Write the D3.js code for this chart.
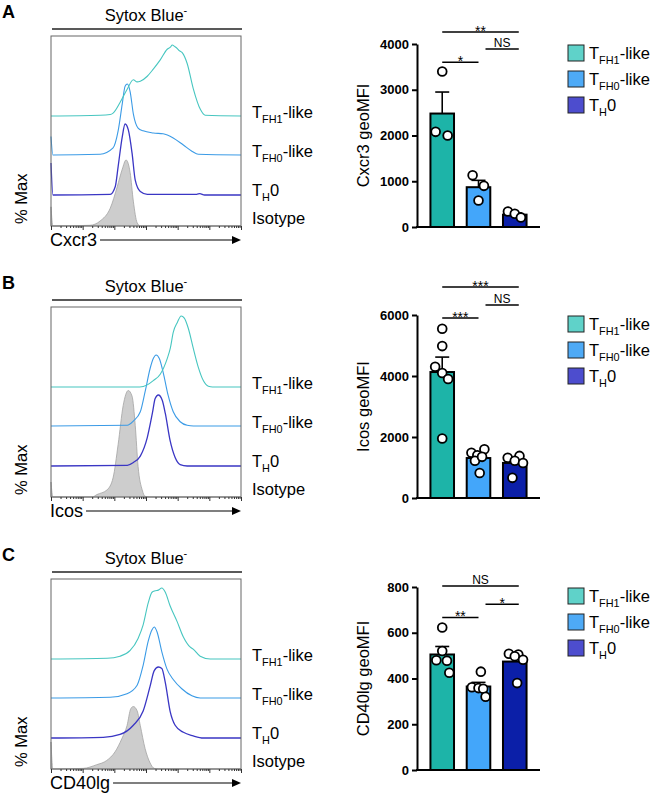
<!DOCTYPE html>
<html>
<head>
<meta charset="utf-8">
<script src="https://cdn.jsdelivr.net/npm/d3@7"></script>
<style>
  body { margin: 0; background: #fff; }
  svg { font-family: "Liberation Sans", Arial, Helvetica, sans-serif; }
</style>
</head>
<body>
<svg id="fig" width="657" height="795"></svg>
<script>
// ---- data ----
const groups = ["TFH1-like", "TFH0-like", "TH0"]
const groupParts = [["T", "FH1", "-like"], ["T", "FH0", "-like"], ["T", "H", "0"]]
const panelLetters = ["A", "B", "C"]
const markers = ["Cxcr3", "Icos", "CD40lg"]
const yMax = [4000, 6000, 800]
const yStep = [1000, 2000, 200]

// bar means, SEM and single points (geoMFI)
const means = [[2480, 870, 270], [4130, 1310, 1150], [505, 365, 474]]
const sems = [[470, 150, 40], [490, 160, 140], [35, 18, 18]]
const cxcr3Pts = [[3400, 2080, 2000], [1130, 900, 580], [340, 290, 210]]
const icosPts = [[5550, 4980, 4300, 4100, 3900, 1950], [1480, 1600, 1400, 1220, 1350, 820], [1320, 1380, 1220, 1150, 660]]
const cd40Pts = [[623, 520, 480, 478, 425], [430, 362, 358, 355, 320], [508, 505, 497, 482, 380]]
// horizontal spread of the points, as a fraction of bar width
const cxcr3Jit = [[0, -0.28, 0.23], [-0.25, 0.23, 0], [-0.29, 0, 0.26]]
const icosJit = [[0, 0, -0.3, 0, 0.25, 0], [-0.3, 0.25, -0.05, -0.15, 0.15, 0.05], [-0.3, 0.2, 0, 0.35, -0.1]]
const cd40Jit = [[0, 0, -0.25, 0.2, 0.3], [0.1, -0.28, 0, 0.2, 0.3], [-0.25, 0.15, 0, 0.35, 0.1]]

// significance brackets: [from, to, y value, label]
const cxcr3Sig = [[0, 2, 4260, "**"], [1, 2, 3890, "NS"], [0, 1, 3600, "*"]]
const icosSig = [[0, 2, 6920, "***"], [1, 2, 6330, "NS"], [0, 1, 5900, "***"]]
const cd40Sig = [[0, 2, 804, "NS"], [1, 2, 725, "*"], [0, 1, 667, "**"]]

// histograms: [log10 intensity, % of lane height]
const cxcr3Tfh1 = [[0,0],[1.55,1],[1.87,2],[1.96,4],[2.18,19],[2.41,38],[2.6,51],[2.72,48],[2.82,49],[3.04,56],[3.23,66],[3.45,79],[3.67,94],[3.77,97],[3.83,100],[3.9,98],[3.99,95],[4.05,92],[4.15,89],[4.3,74],[4.49,39],[4.72,9],[4.87,1],[6,0]]
const cxcr3Tfh0 = [[0,26],[0.06,0],[1.55,1],[1.96,10],[2.12,34],[2.25,72],[2.34,97],[2.41,100],[2.5,89],[2.6,58],[2.75,38],[2.91,34],[3.23,31],[3.54,30],[3.86,24],[4.18,14],[4.46,5],[4.65,1],[6,0]]
const cxcr3Th0 = [[0,45],[0.06,0],[1.87,1],[2.03,12],[2.12,40],[2.25,82],[2.34,100],[2.44,92],[2.56,59],[2.66,21],[2.82,5],[3.04,1],[4.6,1],[4.7,2],[4.85,0],[6,0]]
const cxcr3Iso = [[0,27],[0.06,0],[1.23,1],[1.55,7],[1.87,25],[2.09,55],[2.25,80],[2.37,93],[2.5,75],[2.6,35],[2.72,4.6],[2.82,0],[6,0]]

const icosTfh1 = [[0,0],[2.8,0],[3.04,3],[3.23,9],[3.45,18],[3.67,40],[3.77,55],[3.86,77],[3.99,91],[4.11,100],[4.21,97],[4.34,82],[4.49,55],[4.65,28],[4.81,9],[4.97,1],[5.1,0],[6,0]]
const icosTfh0 = [[0,0],[2.41,1],[2.6,7],[2.82,20],[2.97,48],[3.13,81],[3.23,95],[3.32,100],[3.42,95],[3.54,76],[3.7,43],[3.86,20],[4.08,6],[4.3,1],[4.5,0],[6,0]]
const icosTh0 = [[0,0],[2.41,1],[2.6,5],[2.82,14],[3.04,40],[3.2,74],[3.29,95],[3.39,100],[3.51,93],[3.61,74],[3.76,36],[3.92,12],[4.08,2],[4.3,0],[6,0]]
const icosIso = [[0,21],[0.06,0],[1.3,0],[1.45,3.4],[1.77,10],[1.96,27],[2.12,74],[2.28,129],[2.44,150],[2.56,142],[2.66,101],[2.75,43],[2.88,10],[2.97,1],[3.1,0],[6,0]]

const cd40Tfh1 = [[0,0],[1.77,1],[2.18,4],[2.5,12],[2.75,29],[2.91,48],[3.07,79],[3.19,94],[3.29,96],[3.39,97],[3.5,100],[3.61,94],[3.76,75],[3.98,53],[4.18,31],[4.39,17],[4.49,14],[4.71,4],[5.03,0],[6,0]]
const cd40Tfh0 = [[0,0],[1.87,1],[2.4,6],[2.72,18],[2.91,46],[3.07,80],[3.19,96],[3.26,100],[3.35,93],[3.5,65],[3.66,41],[3.86,26],[4.13,13],[4.45,3],[4.71,0],[6,0]]
const cd40Th0 = [[0,0],[1.65,1],[2.18,5],[2.6,18],[2.91,38],[3.13,73],[3.26,95],[3.39,100],[3.5,98],[3.61,78],[3.76,38],[3.92,18],[4.18,8],[4.49,3],[4.81,0],[6,0]]
const cd40Iso = [[0,38],[0.06,0],[1.02,0.9],[1.44,6],[1.76,12],[2.02,24],[2.24,43],[2.4,61],[2.52,85],[2.6,88],[2.72,82],[2.82,61],[2.97,29],[3.13,8.5],[3.26,0.9],[3.4,0],[6,0]]

const barColors = ["#1db4a8", "#43a6fa", "#0b1fa8"]
const legendColors = ["#5fd2c9", "#4eaaf6", "#4d4dce"]
const lineColors = ["#47c6c0", "#3b9be6", "#3a36c4"]

// ---- layout ----
const svg = d3.select('#fig')
const rowY = [0, 271, 543]
const box = { left: 51, right: 241, top: 36, bottom: 226 }
const laneBase = [116, 155, 195, 226]
const labelBase = [118, 157, 196, 224]
const legendY = [53, 79, 105]

const xHist = d3.scaleLog().domain([1, 1e6]).range([box.left, box.right])
const yHist = d3.scaleLinear().domain([0, 100]).range([0, 71])
const xBar = d3.scaleBand().domain(groups).range([425, 532]).paddingInner(0.35).paddingOuter(0.15)

const hists = [
    [cxcr3Tfh1, cxcr3Tfh0, cxcr3Th0, cxcr3Iso],
    [icosTfh1, icosTfh0, icosTh0, icosIso],
    [cd40Tfh1, cd40Tfh0, cd40Th0, cd40Iso]
]
const points = [cxcr3Pts, icosPts, cd40Pts]
const jitters = [cxcr3Jit, icosJit, cd40Jit]
const sigs = [cxcr3Sig, icosSig, cd40Sig]

// text with a subscript part, e.g. T + FH1 + -like
function subText( sel, parts, size ) {
    const t = sel.append('text').attr('font-size', size)
    t.append('tspan').text(parts[0])
    t.append('tspan').attr('font-size', size * 0.66).attr('dy', size * 0.28).text(parts[1])
    t.append('tspan').attr('dy', -size * 0.28).text(parts[2])
    return t
}

panelLetters.forEach( (letter, r) => {
    const g = svg.append('g').attr('transform', `translate(0,${rowY[r]})`)

    g.append('text').attr('x', 2).attr('y', 18)
        .attr('font-size', 18).attr('font-weight', 'bold').text(letter)

    // histogram overlay
    const title = g.append('text').attr('x', 146).attr('y', 21)
        .attr('text-anchor', 'middle').attr('font-size', 16.5).text('Sytox Blue')
    title.append('tspan').attr('dy', -7).attr('font-size', 11).text('-')
    g.append('line').attr('x1', 52).attr('x2', 242).attr('y1', 29).attr('y2', 29)
        .attr('stroke', '#222').attr('stroke-width', 1.6)

    const [tfh1, tfh0, th0, iso] = hists[r]
    const area = d3.area()
        .x( d => xHist(Math.pow(10, d[0])) )
        .y0( laneBase[3] )
        .y1( d => laneBase[3] - yHist(d[1]) )
        .curve(d3.curveMonotoneX)
    g.append('path').attr('d', area(iso))
        .attr('fill', '#cdcdcd').attr('stroke', '#a3a3a3').attr('stroke-width', 0.8)

    ;[th0, tfh0, tfh1].forEach( (data, k) => {
        const lane = 2 - k
        const line = d3.line()
            .x( d => xHist(Math.pow(10, d[0])) )
            .y( d => laneBase[lane] - yHist(d[1]) )
            .curve(d3.curveMonotoneX)
        g.append('path').attr('d', line(data)).attr('fill', 'none')
            .attr('stroke', lineColors[lane]).attr('stroke-width', lane === 2 ? 1.3 : 1.1)
    })

    g.append('rect').attr('x', box.left).attr('y', box.top)
        .attr('width', box.right - box.left).attr('height', box.bottom - box.top)
        .attr('fill', 'none').attr('stroke', '#666').attr('stroke-width', 1)

    const majors = d3.range(0, 7).map( e => Math.pow(10, e) )
    const minors = []
    d3.range(0, 6).forEach( e => d3.range(2, 10).forEach( m => minors.push(m * Math.pow(10, e)) ) )
    ;[[majors, 4], [minors, 2]].forEach( ([vals, size]) => {
        g.append('g').attr('transform', `translate(0,${box.bottom})`)
            .call(d3.axisBottom(xHist).tickValues(vals).tickSize(size).tickFormat(''))
            .call( a => a.select('.domain').remove() )
            .selectAll('line').attr('stroke', '#333')
    })

    const xl = g.append('text').attr('x', 50).attr('y', 246).attr('font-size', 18).text(markers[r])
    const xEnd = 50 + xl.node().getComputedTextLength() + 3
    g.append('line').attr('x1', xEnd).attr('x2', 234).attr('y1', 240).attr('y2', 240)
        .attr('stroke', '#000').attr('stroke-width', 1.2)
    g.append('path').attr('d', 'M241,240 L232,236 L232,244 Z').attr('fill', '#000')

    g.append('text').attr('transform', `translate(27,${box.bottom - 2}) rotate(-90)`)
        .attr('font-size', 16.5).text('% Max')

    groupParts.forEach( (p, i) => {
        subText(g, p, 16.5).attr('x', 252).attr('y', labelBase[i])
    })
    g.append('text').attr('x', 252).attr('y', labelBase[3]).attr('font-size', 16.5).text('Isotype')

    // bar chart
    const yB = d3.scaleLinear().domain([0, yMax[r]]).range([227, 44])
    const yAxis = g.append('g').attr('transform', 'translate(417,0)')
        .call(d3.axisLeft(yB).tickValues(d3.range(0, yMax[r] + 1, yStep[r]))
            .tickFormat(d3.format('d')).tickSize(5).tickSizeOuter(0).tickPadding(3))
    yAxis.select('.domain').attr('stroke-width', 2)
    yAxis.selectAll('.tick line').attr('stroke-width', 2)
    yAxis.selectAll('text').attr('font-size', 13).attr('font-weight', 'bold')
        .attr('fill', '#000').attr('font-family', '"Liberation Sans", Arial, sans-serif')
    g.append('line').attr('x1', 416).attr('x2', 540).attr('y1', 227).attr('y2', 227)
        .attr('stroke', '#000').attr('stroke-width', 2)

    g.append('text').attr('transform', `translate(369,${(44 + 227) / 2}) rotate(-90)`)
        .attr('text-anchor', 'middle').attr('font-size', 16.5).text(`${markers[r]} geoMFI`)

    const bw = xBar.bandwidth()
    groups.forEach( (grp, i) => {
        const cx = xBar(grp) + bw / 2
        const m = means[r][i], top = yB(m + sems[r][i])
        g.append('line').attr('x1', cx).attr('x2', cx).attr('y1', yB(m)).attr('y2', top)
            .attr('stroke', '#000').attr('stroke-width', 1.6)
        g.append('line').attr('x1', cx - 7).attr('x2', cx + 7).attr('y1', top).attr('y2', top)
            .attr('stroke', '#000').attr('stroke-width', 1.6)
        g.append('rect').attr('x', xBar(grp)).attr('y', yB(m))
            .attr('width', bw).attr('height', yB(0) - yB(m))
            .attr('fill', barColors[i]).attr('stroke', '#000').attr('stroke-width', 2)
    })
    groups.forEach( (grp, i) => {
        const cx = xBar(grp) + bw / 2
        points[r][i].forEach( (v, j) => {
            g.append('circle').attr('cx', cx + jitters[r][i][j] * bw).attr('cy', yB(v)).attr('r', 4.4)
                .attr('fill', '#fff').attr('stroke', '#000').attr('stroke-width', 1.8)
        })
    })

    // significance brackets
    const center = i => xBar(groups[i]) + bw / 2
    sigs[r].forEach( ([a, b, v, lab]) => {
        const x1 = center(a) + (a > 0 ? 7 : 0)
        const x2 = center(b) + (b === 2 ? 4 : 0)
        const y = yB(v)
        g.append('line').attr('x1', x1).attr('x2', x2).attr('y1', y).attr('y2', y)
            .attr('stroke', '#000').attr('stroke-width', 1.5)
        const isStar = lab.indexOf('*') >= 0
        g.append('text').attr('x', (x1 + x2) / 2).attr('y', isStar ? y + 4 : y - 2)
            .attr('text-anchor', 'middle').attr('font-size', isStar ? 14 : 12).text(lab)
    })

    // legend
    groupParts.forEach( (p, i) => {
        g.append('rect').attr('x', 568).attr('y', legendY[i] - 8).attr('width', 16).attr('height', 16)
            .attr('fill', legendColors[i]).attr('stroke', '#222').attr('stroke-width', 1)
        subText(g, p, 16.5).attr('x', 589).attr('y', legendY[i] + 6)
    })
})
</script>
</body>
</html>
